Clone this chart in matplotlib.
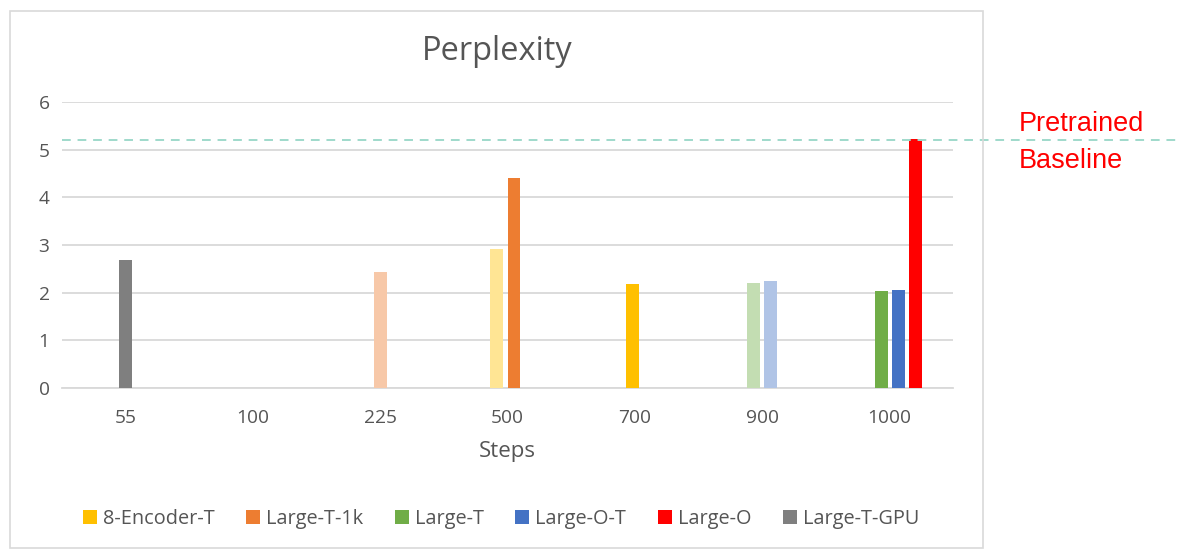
import matplotlib.pyplot as plt
from matplotlib.patches import Patch, Rectangle
from matplotlib.colors import to_rgb
import numpy as np

# categories on the x axis
steps = ["55", "100", "225", "500", "700", "900", "1000"]

# legend series and their colours
series_names = ["8-Encoder-T", "Large-T-1k", "Large-T", "Large-O-T", "Large-O", "Large-T-GPU"]
series_colors = ["#FFC000", "#ED7D31", "#70AD47", "#4472C4", "#FF0000", "#7F7F7F"]

# one entry per bar: which series, which step, perplexity, drawn faded or not
bar_series = [5, 1, 0, 1, 0, 2, 3, 2, 3, 4]
bar_steps = [0, 2, 3, 3, 4, 5, 5, 6, 6, 6]
bar_values = [2.68, 2.43, 2.91, 4.41, 2.18, 2.21, 2.24, 2.03, 2.05, 5.22]
bar_faded = [False, True, True, False, False, True, True, False, False, False]

baseline_value = 5.2

# horizontal placement of each bar inside its step slot (in category units)
BAR_OFFSETS = [0.0, 0.0, -0.09, 0.051, -0.016, -0.067, 0.067, -0.059, 0.071, 0.204]
BAR_WIDTH = 0.102
FADE = 0.42

TEXT_GRAY = "#555555"
GRID_GRAY = "#D9D9D9"
FONT = ["Open Sans", "DejaVu Sans"]

plt.rcParams["font.family"] = FONT


def faded(color, amount):
    rgb = np.array(to_rgb(color))
    return tuple(rgb * amount + (1 - amount))


W, H = 1179, 550
fig = plt.figure(figsize=(W / 100, H / 100), dpi=100)

# chart frame
fig.patches.append(Rectangle((10 / W, 1 - 548 / H), 973 / W, 537 / H,
                             transform=fig.transFigure, fill=False,
                             edgecolor=GRID_GRAY, linewidth=1.2, zorder=0))

ax = fig.add_axes([62 / W, 1 - 388 / H, (953 - 62) / W, (388 - 102) / H])

x_indices = np.arange(len(steps))
for i in range(len(bar_values)):
    color = series_colors[bar_series[i]]
    if bar_faded[i]:
        color = faded(color, FADE)
    ax.bar(x_indices[bar_steps[i]] + BAR_OFFSETS[i], bar_values[i], BAR_WIDTH,
           color=color, zorder=3)

ax.set_xlim(-0.5, len(steps) - 0.5)
ax.set_ylim(0, 6)
ax.set_yticks(range(0, 7))
ax.set_xticks(x_indices)
ax.set_xticklabels(steps)
ax.grid(axis="y", color=GRID_GRAY, linewidth=1.3, zorder=0)
for side in ["top", "right", "left"]:
    ax.spines[side].set_visible(False)
ax.spines["bottom"].set_color(GRID_GRAY)
ax.spines["bottom"].set_linewidth(1.3)
ax.tick_params(axis="both", length=0, labelsize=13.8, labelcolor=TEXT_GRAY)
ax.tick_params(axis="y", pad=9)
ax.tick_params(axis="x", pad=15)

ax.set_xlabel("Steps", fontsize=16, color=TEXT_GRAY, labelpad=10)
fig.text(497 / W, 1 - 52 / H, "Perplexity", fontsize=23.5, color=TEXT_GRAY,
         ha="center", va="center")

# pretrained baseline runs past the chart frame
ax.axhline(baseline_value, xmin=0, xmax=(W - 62) / (953 - 62), clip_on=False,
           color="#9FD9CB", linewidth=1.4, dashes=(4.5, 3.5), zorder=4)
fig.text(1019 / W, 1 - 131 / H, "Pretrained", fontsize=19.5, color="#FF0000",
         family=["Liberation Sans", "DejaVu Sans"], ha="left", va="baseline")
fig.text(1019 / W, 1 - 168 / H, "Baseline", fontsize=19.5, color="#FF0000",
         family=["Liberation Sans", "DejaVu Sans"], ha="left", va="baseline")

handles = [Patch(facecolor=c, edgecolor="none") for c in series_colors]
fig.legend(handles, series_names, loc="center", bbox_to_anchor=(501 / W, 1 - 519 / H),
           ncol=6, frameon=False, fontsize=14.3, handlelength=0.7, handleheight=0.7,
           handletextpad=0.3, columnspacing=1.6, labelcolor=TEXT_GRAY)

fig.savefig("out.png", dpi=100)
